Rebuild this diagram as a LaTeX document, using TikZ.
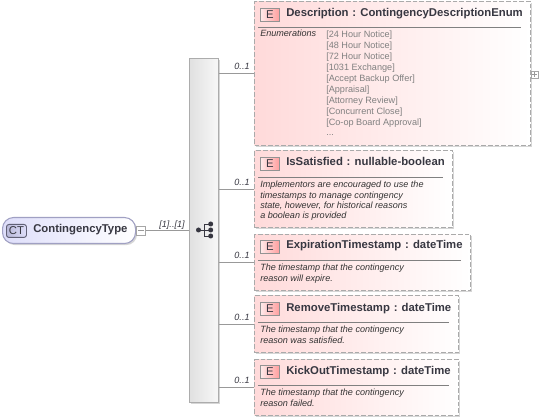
\documentclass[tikz,border=0pt]{standalone}
\usepackage{fontspec}
\setmainfont{Liberation Sans}
\usetikzlibrary{shadows,calc}
\definecolor{tdark}{RGB}{55,55,65}
\definecolor{pinkl}{RGB}{255,218,218}
\definecolor{pinkm}{RGB}{255,238,238}
\definecolor{dashc}{RGB}{170,170,170}
\definecolor{lav}{RGB}{222,222,250}
\definecolor{lavb}{RGB}{160,160,195}
\newcommand{\px}{0.75pt}
\tikzset{
  x=0.75pt,y=-0.75pt,
  softshadow/.style={drop shadow={shadow xshift=1.2pt,shadow yshift=-1.2pt,opacity=.16,fill=black}},
  elembox/.style={draw=dashc,dash pattern=on 3.5pt off 1.5pt,line width=0.9pt,left color=pinkl,middle color=pinkm,right color=white,
    anchor=north west,inner sep=0pt,softshadow},
  badge/.style={draw=gray!85,line width=0.6pt,left color=red!8,right color=red!38,anchor=north west,
    minimum width=19*\px,minimum height=13*\px,inner sep=0pt,text=tdark,font=\fontsize{8.5}{9}\selectfont},
  title/.style={anchor=base west,inner sep=0pt,text=tdark,font=\fontsize{8.5}{9}\selectfont\bfseries},
  sepline/.style={draw=gray,line width=0.5pt},
  descr/.style={anchor=north west,inner sep=0pt,align=left,text=black!80,font=\fontsize{6.8}{7.7}\selectfont\itshape},
  enumv/.style={anchor=north west,inner sep=0pt,align=left,text=gray,font=\fontsize{6.85}{8.2}\selectfont},
  mult/.style={inner sep=0pt,text=tdark,font=\fontsize{6.8}{8}\selectfont\itshape},
  conn/.style={draw=gray!80,line width=0.6pt},
  pm/.style={draw=gray!70,fill=white,line width=0.5pt,minimum size=7*\px,inner sep=0pt},
}
\begin{document}
\begin{tikzpicture}
\useasboundingbox (0,0) rectangle (539,420);

% sequence box
\node[draw=gray!65,line width=0.8pt,left color=black!12,right color=black!3,anchor=north west,
  minimum width=29*\px,minimum height=344*\px,inner sep=0pt,softshadow] (seq) at (189,58) {};
\draw[tdark,line width=0.7pt] (198.5,230) -- (204.5,230) (210.7,224) -- (204.5,224) -- (204.5,236) -- (210.7,236) (204.5,230) -- (210.7,230);
\fill[tdark] (198.5,230) circle (2.5);
\fill[tdark] (210.7,224) circle (2.5) (210.7,230) circle (2.5) (210.7,236) circle (2.5);

% complex type
\node[draw=lavb,line width=0.8pt,left color=lav,right color=white,anchor=north west,rounded corners=11*\px,
  minimum width=133*\px,minimum height=26*\px,inner sep=0pt,softshadow] (ct) at (2,217) {};
\node[draw=lavb!60!black,line width=0.7pt,left color=lav!40!lavb,right color=lav,rounded corners=2.5*\px,anchor=north west,
  minimum width=20*\px,minimum height=13*\px,inner sep=0pt,text=tdark,font=\fontsize{8.5}{9}\selectfont] (ctb) at (6,224) {CT};
\node[title] (ctt) at (33,232.5) {ContingencyType};
\node[pm,anchor=west,minimum size=9*\px] (minus) at (ct.east) {};
\draw[gray!80,line width=0.5pt] ($(minus.center)+(-3,0)$) -- ($(minus.center)+(3,0)$);
\draw[conn] (minus) -- (seq);
\node[mult] (m0) at (172,225.5) {{[1]..[1]}};

% Description
\node[elembox,minimum width=276*\px,minimum height=144*\px] (d1) at (254,1) {};
\node[badge] (b1) at (260,8) {E};
\node[title] (t1) at (286,16.5) {Description\,\,: ContingencyDescriptionEnum};
\draw[sepline] (258,27.5) -- (521,27.5);
\node[descr] (k1) at (260,30) {Enumerations};
\node[enumv] (e1) at (326,30.7) {{[24 Hour Notice]}\\{[48 Hour Notice]}\\{[72 Hour Notice]}\\{[1031 Exchange]}\\{[Accept Backup Offer]}\\{[Appraisal]}\\{[Attorney Review]}\\{[Concurrent Close]}\\{[Co-op Board Approval]}\\...};
\node[pm] (plus) at (534.5,74.7) {};
\draw[gray!80,line width=0.5pt] ($(plus.center)+(-2.5,0)$) -- ($(plus.center)+(2.5,0)$) ($(plus.center)+(0,-2.5)$) -- ($(plus.center)+(0,2.5)$);
\draw[conn] (seq.east |- d1.west) -- (d1.west);
\node[mult] (m1) at (242,66) {0..1};

% IsSatisfied
\node[elembox,minimum width=198*\px,minimum height=77*\px] (d2) at (254,150) {};
\node[badge] (b2) at (260,157) {E};
\node[title] (t2) at (286,166) {IsSatisfied\,\,: nullable-boolean};
\draw[sepline] (258,177.5) -- (443,177.5);
\node[descr] (c2) at (260,181) {Implementors are encouraged to use the\\ timestamps to manage contingency\\ state, however, for historical reasons\\ a boolean is provided};
\draw[conn] (seq.east |- d2.west) -- (d2.west);
\node[mult] (m2) at (242,182) {0..1};

% ExpirationTimestamp
\node[elembox,minimum width=216*\px,minimum height=56*\px] (d3) at (254,234) {};
\node[badge] (b3) at (260,240) {E};
\node[title] (t3) at (286,249) {ExpirationTimestamp\,\,: dateTime};
\draw[sepline] (258,260.5) -- (461,260.5);
\node[descr] (c3) at (260,264) {The timestamp that the contingency\\ reason will expire.};
\draw[conn] (seq.east |- d3.west) -- (d3.west);
\node[mult] (m3) at (242,255) {0..1};

% RemoveTimestamp
\node[elembox,minimum width=204*\px,minimum height=57*\px] (d4) at (254,295) {};
\node[badge] (b4) at (260,302) {E};
\node[title] (t4) at (286,311) {RemoveTimestamp\,\,: dateTime};
\draw[sepline] (258,322.5) -- (449,322.5);
\node[descr] (c4) at (260,326) {The timestamp that the contingency\\ reason was satisfied.};
\draw[conn] (seq.east |- d4.west) -- (d4.west);
\node[mult] (m4) at (242,317) {0..1};

% KickOutTimestamp
\node[elembox,minimum width=204*\px,minimum height=56*\px] (d5) at (254,359) {};
\node[badge] (b5) at (260,365) {E};
\node[title] (t5) at (286,374) {KickOutTimestamp\,\,: dateTime};
\draw[sepline] (258,385.5) -- (449,385.5);
\node[descr] (c5) at (260,389) {The timestamp that the contingency\\ reason failed.};
\draw[conn] (seq.east |- d5.west) -- (d5.west);
\node[mult] (m5) at (242,380) {0..1};
\end{tikzpicture}
\end{document}
